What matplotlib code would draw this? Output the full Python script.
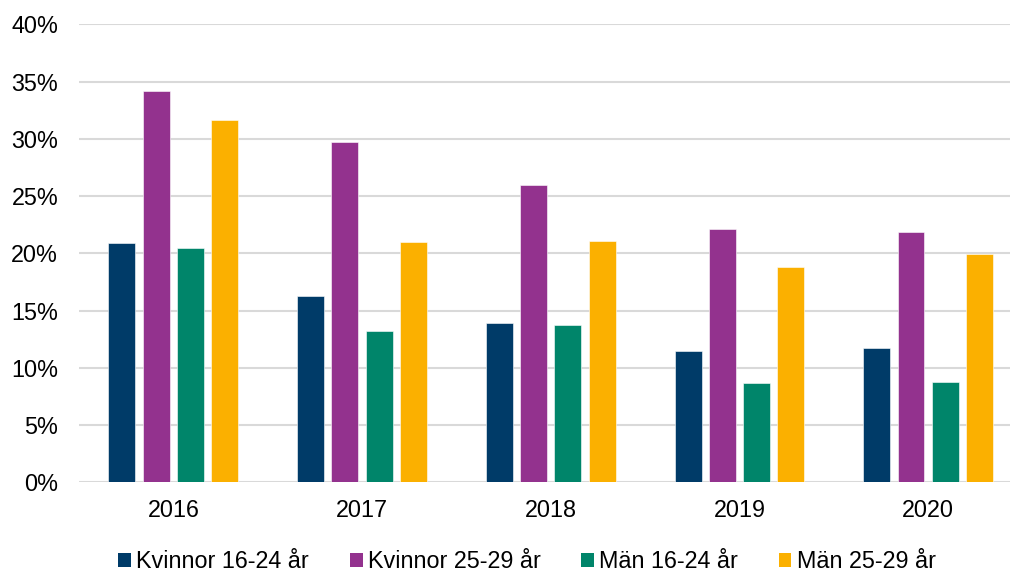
import matplotlib
matplotlib.use("Agg")
import matplotlib.pyplot as plt
import numpy as np
from matplotlib.patches import Patch

years = ["2016", "2017", "2018", "2019", "2020"]
series_names = ["Kvinnor 16-24 år", "Kvinnor 25-29 år", "Män 16-24 år", "Män 25-29 år"]
kvinnor_16_24 = [20.9, 16.3, 13.9, 11.5, 11.7]
kvinnor_25_29 = [34.2, 29.7, 26.0, 22.1, 21.9]
man_16_24 = [20.5, 13.2, 13.7, 8.7, 8.8]
man_25_29 = [31.6, 21.0, 21.1, 18.8, 19.9]
yticks = [0, 5, 10, 15, 20, 25, 30, 35, 40]

colors = ["#003B68", "#93328E", "#00856A", "#FBB000"]
series = [kvinnor_16_24, kvinnor_25_29, man_16_24, man_25_29]

plt.rcParams['font.family'] = ['Liberation Sans', 'DejaVu Sans']

W, H = 1010, 574
fig = plt.figure(figsize=(W/100, H/100), dpi=100)
left, right = 79/W, 1.0
bottom, top = 1 - 482.3/H, 1 - 24.3/H
ax = fig.add_axes([left, bottom, right-left, top-bottom])

x = np.arange(len(years))
step = 0.1815
width = 0.143
offsets = (np.arange(4) - 1.5) * step
for i, (vals, c) in enumerate(zip(series, colors)):
    ax.bar(x + offsets[i], vals, width=width, color=c, zorder=3,
           edgecolor="#ffffff", linewidth=0.4)

ax.set_ylim(0, 40)
ax.set_xlim(-0.5, 4.5 - 12.5/189)
ax.set_yticks(yticks)
ax.set_yticklabels([f"{v}%" for v in yticks], fontsize=16.8)
ax.set_xticks(x)
ax.set_xticklabels(years, fontsize=16.8)
ax.tick_params(axis='both', length=0)
ax.tick_params(axis='y', pad=15)
ax.tick_params(axis='x', pad=12)
ax.grid(axis='y', color="#D9D9D9", linewidth=1.5, zorder=0)
for s in ax.spines.values():
    s.set_visible(False)

handles = [Patch(facecolor=c, edgecolor='none') for c in colors]
leg = fig.legend(handles, series_names, loc='center', ncol=4,
                 bbox_to_anchor=(527/W, 1 - 561.5/H), frameon=False,
                 fontsize=16.8, handlelength=0.55, handleheight=0.55,
                 handletextpad=0.22, columnspacing=1.74, borderaxespad=0)

fig.savefig("out.png", dpi=100)
